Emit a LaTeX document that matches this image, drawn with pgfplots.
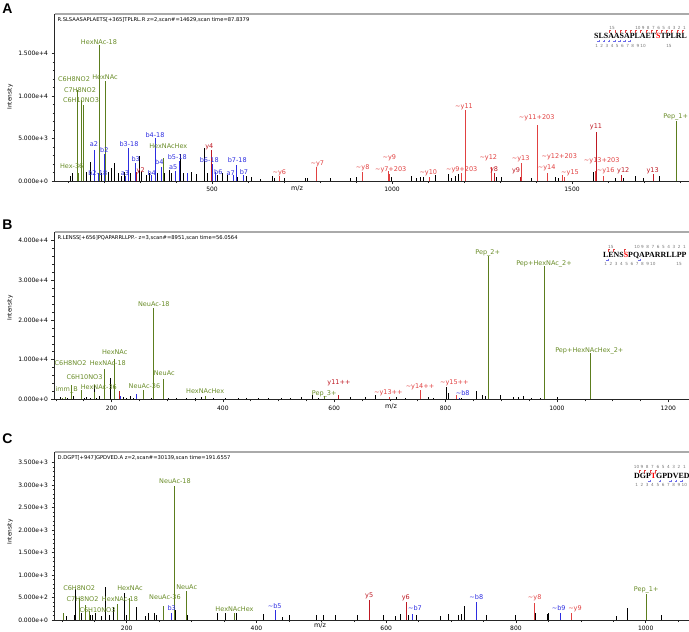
\documentclass[border=0pt]{standalone}
\usepackage{pgfplots}
\pgfplotsset{compat=1.18}
\usepackage{fontspec}
\setmainfont{DejaVu Sans}
\newfontfamily\seqfont{Liberation Serif}
\newfontfamily\letfont{Liberation Sans}
\definecolor{gpk}{RGB}{92,125,30}
\definecolor{glb}{RGB}{105,140,40}
\definecolor{bpk}{RGB}{45,45,225}
\definecolor{rdk}{RGB}{190,25,35}
\definecolor{rlt}{RGB}{225,65,65}
\definecolor{tgray}{RGB}{170,170,170}
\definecolor{ngray}{RGB}{120,120,120}
\newcommand{\tl}{\textasciitilde}
\newcommand{\lf}{\fontsize{6.5}{7}\selectfont}
\newcommand{\lab}[4]{\node[text=#1,font=\lf,inner sep=0pt] at (#2,#3) {#4};}
\newcommand{\nf}{\fontsize{4.2}{4.5}\selectfont}
\pgfplotsset{spec/.style={
  scale only axis, anchor=north west, width=634.5pt,
  axis x line*=bottom, axis y line*=left,
  axis line style={black!85,line width=0.6pt},
  tick style={black!85,line width=0.5pt},
  tick align=outside, major tick length=3pt, minor tick length=2pt,
  tick label style={font=\fontsize{6}{7}\selectfont},
  ymin=0, scaled ticks=false, clip=false, minor y tick num=4},
  pk/.style={ycomb, mark=none, line width=0.75pt}}
\begin{document}
\begin{tikzpicture}
\useasboundingbox (0,0) rectangle (689pt,-632pt);
% ---------------- A
\begin{axis}[spec, at={(54.5pt,-14pt)}, height=167pt,
  xmin=62.5, xmax=1825, ymax=19620,
  xtick={500,1000,1500}, xticklabels={500,1000,1500},
  minor xtick={100,200,...,1800},
  ytick={0,5000,10000,15000}, yticklabels={0.000e+0,5.000e+3,1.000e+4,1.500e+4}]
\addplot[pk, black] coordinates {(105.6,630)(111,900)(150.9,1100)(161,2200)(193,900)(211.6,1100)(220.9,1500)(230,2150)(239,900)(248.1,630)(257.4,1100)(274,900)(298,2900)(305,1100)(317,700)(326,980)(349,900)(367.6,980)(381.5,1300)(388,980)(412,3200)(421,900)(441.6,1100)(455.6,820)(478.7,3850)(488,900)(515.7,700)(529.6,980)(541.7,700)(571,510)(594.4,590)(608,510)(635,235)(667.6,590)(674,390)(701.9,390)(759,310)(765,310)(791,590)(827.8,390)(883,310)(900,510)(999,510)(1054.6,590)(1066.7,390)(1077.8,510)(1087,510)(1119.4,700)(1156.5,860)(1165.7,390)(1175,630)(1184,780)(1290,510)(1304,510)(1387,390)(1454,510)(1461,390)(1558,1100)(1620,390)(1642,390)(1676,630)(1697.5,390)(1743.5,590)};
\addplot[pk, gpk] coordinates {(126,10700)(130,900)(138,9500)(144,8900)(186,16000)(204,11800)(366,2700)(1790,7000)};
\addplot[pk, bpk] coordinates {(173,3600)(183,900)(201,3200)(258,600)(269,3900)(286,2100)(332,700)(342,5000)(358,1600)(399,1200)(409,2300)(432,900)(500,2000)(510,1100)(559,700)(568,1900)(587,700)};
\addplot[pk, rdk] coordinates {(291,1100)(497,3650)(1284,900)(1356,500)(1567,5750)(1636,700)(1726,800)};
\addplot[pk, rlt] coordinates {(687,620)(789,1700)(918,1100)(990,1200)(993,800)(1103,520)(1193,900)(1203,8300)(1275,1700)(1360,2100)(1405,6600)(1431,900)(1473,700)(1480,500)(1564,1200)(1588,600)};
\draw[tgray, line width=1.2pt] (rel axis cs:0,1) -- (rel axis cs:1,1);
\end{axis}
% ---------------- B
\begin{axis}[spec, at={(54.5pt,-232pt)}, height=167.3pt,
  xmin=97.6, xmax=1237.2, ymax=42170,
  xtick={200,400,...,1200}, xticklabels={200,400,600,800,1000,1200},
  minor xtick={100,150,...,1200},
  ytick={0,10000,20000,30000,40000}, yticklabels={0.000e+0,1.000e+4,2.000e+4,3.000e+4,4.000e+4}]
\addplot[pk, black] coordinates {(108,590)(121.3,420)(131.4,760)(151.2,420)(155.4,590)(161.4,420)(169.5,3500)(173.4,420)(178,760)(197.3,5400)(221.3,590)(227.3,420)(233.2,760)(239.2,420)(272.2,420)(302,420)(317,250)(335,250)(350,420)(362,590)(383,420)(404,250)(428,420)(443,420)(464,250)(482,420)(505.6,420)(520.6,250)(541.6,590)(560.6,1010)(571.4,420)(628.3,500)(655.3,670)(673.2,1100)(712.2,500)(727,340)(769,500)(778,340)(802,3030)(805,1500)(829,340)(855.9,2190)(866.6,1010)(870.8,840)(897.7,1010)(921.7,670)(930.6,500)(939.6,840)(954.6,340)(969.6,340)(1000.7,500)};
\addplot[pk, gpk] coordinates {(111.7,420)(116.5,600)(127.3,3700)(145.2,2440)(169.1,1850)(187,7660)(205,10270)(257.2,2270)(275.8,22900)(293.7,5220)(368,760)(582.2,760)(876.7,36000)(978,33660)(1059.4,11600)};
\addplot[pk, rdk] coordinates {(213.5,2020)(608,1100)};
\addplot[pk, rlt] coordinates {(698.4,500)(755.3,2300)(820,1100)};
\addplot[pk, bpk] coordinates {(216.5,800)(244,1430)(824,400)};
\draw[tgray, line width=1.2pt] (rel axis cs:0,1) -- (rel axis cs:1,1);
\end{axis}
% ---------------- C
\begin{axis}[spec, at={(54.5pt,-452pt)}, height=168pt,
  xmin=88.7, xmax=1066.7, ymax=3733,
  xtick={200,400,...,1000}, xticklabels={200,400,600,800,1000},
  minor xtick={100,150,...,1050},
  ytick={0,500,...,3500}, yticklabels={0.000e+0,5.000e+2,1.000e+3,1.500e+3,2.000e+3,2.500e+3,3.000e+3,3.500e+3}]
\addplot[pk, black] coordinates {(107.5,89)(119.3,111)(121.4,700)(130.6,148)(143.4,111)(147,111)(151.1,148)(161.4,89)(166.6,726)(173.2,111)(179.4,296)(196.3,593)(200,111)(214.3,296)(228.2,89)(233.3,163)(242.6,148)(246.2,111)(275.5,222)(294,111)(340.2,163)(352.6,163)(368.5,148)(410.6,133)(440.4,74)(450.2,111)(492.8,111)(503,111)(521,111)(556,111)(595.5,111)(614.6,89)(622.3,133)(634,111)(645.9,111)(682.9,89)(695.7,133)(711.2,111)(715.3,133)(721,311)(754.9,111)(798.5,111)(829.8,163)(848.3,133)(849.9,163)(955.3,89)(972.2,259)(1024.7,111)};
\addplot[pk, gpk] coordinates {(102.3,163)(126.5,500)(135.7,333)(142,207)(186.1,355)(203.5,480)(256.4,311)(273.4,2980)(292.5,650)(365.9,148)(1000.5,580)};
\addplot[pk, bpk] coordinates {(269.3,163)(428.6,222)(640.3,130)(739,405)(869,160)};
\addplot[pk, rdk] coordinates {(574,440)(631.6,405)};
\addplot[pk, rlt] coordinates {(828.3,385)(886,150)};
\draw[tgray, line width=1.2pt] (rel axis cs:0,1) -- (rel axis cs:1,1);
\end{axis}
% ---------------- annotations (pixel frame)
\begin{scope}[x=1pt,y=-1pt]
\node[font=\letfont\bfseries\fontsize{14}{14}\selectfont,inner sep=0pt] at (7.5,8.3) {A};
\node[font=\letfont\bfseries\fontsize{14}{14}\selectfont,inner sep=0pt] at (7.5,225) {B};
\node[font=\letfont\bfseries\fontsize{14}{14}\selectfont,inner sep=0pt] at (7.5,438.3) {C};
\foreach \yy in {97,308,532} \node[rotate=90,font=\fontsize{5.8}{6}\selectfont,inner sep=0pt] at (10,\yy) {Intensity};
\node[font=\fontsize{6.5}{7}\selectfont,inner sep=0pt] at (297,188) {m/z};
\node[font=\fontsize{6.5}{7}\selectfont,inner sep=0pt] at (391,406) {m/z};
\node[font=\fontsize{6.5}{7}\selectfont,inner sep=0pt] at (320,625) {m/z};
\node[anchor=west,font=\fontsize{5.2}{6}\selectfont,inner sep=0pt] at (57.5,19.5) {R.SLSAASAPLAETS[+365]TPLRL.R z=2,scan\#=14629,scan time=87.8379};
\node[anchor=west,font=\fontsize{5.2}{6}\selectfont,inner sep=0pt] at (57.5,237.5) {R.LENSS[+656]PQAPARRLLPP.- z=3,scan\#=8951,scan time=56.0564};
\node[anchor=west,font=\fontsize{5.2}{6}\selectfont,inner sep=0pt] at (57.5,457.5) {D.DGPT[+947]GPDVED.A z=2,scan\#=30139,scan time=191.6557};
% labels A
\lab{glb}{99}{42.3}{HexNAc-18}
\lab{glb}{74}{78.7}{C6H8NO2}
\lab{glb}{105}{77.3}{HexNAc}
\lab{glb}{80}{90}{C7H8NO2}
\lab{glb}{81}{100.3}{C6H10NO3}
\lab{glb}{168.3}{146}{HexNAcHex}
\lab{glb}{71.7}{165.7}{Hex-36}
\lab{glb}{675.7}{117.3}{Pep\_1+}
\lab{bpk}{94}{144.3}{a2}
\lab{bpk}{104.3}{150}{b2}
\lab{bpk}{129}{144.3}{b3-18}
\lab{bpk}{155}{135}{b4-18}
\lab{bpk}{135.7}{158.7}{b3}
\lab{bpk}{177.3}{156.7}{b5-18}
\lab{bpk}{209.3}{159.7}{b6-18}
\lab{bpk}{237.3}{160}{b7-18}
\lab{bpk}{159.3}{162.3}{b4}
\lab{bpk}{173.3}{167.3}{a5}
\lab{bpk}{218.3}{171.7}{b6}
\lab{bpk}{244}{171.7}{b7}
\lab{bpk}{97.7}{173.3}{b2-18}
\lab{bpk}{125}{173.3}{a3}
\lab{bpk}{151.7}{173.3}{b4}
\lab{bpk}{230.7}{173.3}{a7}
\lab{rdk}{209.3}{147}{y4}
\lab{rdk}{140.7}{170.7}{y2}
\lab{rdk}{494}{169.3}{y8}
\lab{rdk}{516}{171}{y9}
\lab{rdk}{596}{127.3}{y11}
\lab{rdk}{623.3}{170.3}{y12}
\lab{rdk}{652.7}{170.3}{y13}
\lab{rlt}{279.3}{172.7}{\tl y6}
\lab{rlt}{317.3}{164.3}{\tl y7}
\lab{rlt}{362.7}{167.7}{\tl y8}
\lab{rlt}{389.3}{157.7}{\tl y9}
\lab{rlt}{390.7}{169.3}{\tl y7+203}
\lab{rlt}{428.3}{172.3}{\tl y10}
\lab{rlt}{461.7}{169.3}{\tl y9+203}
\lab{rlt}{464}{106.7}{\tl y11}
\lab{rlt}{488.3}{157.7}{\tl y12}
\lab{rlt}{520.7}{159}{\tl y13}
\lab{rlt}{536.7}{117.3}{\tl y11+203}
\lab{rlt}{546.7}{168.3}{\tl y14}
\lab{rlt}{559.3}{157}{\tl y12+203}
\lab{rlt}{570}{173.3}{\tl y15}
\lab{rlt}{601.7}{160.3}{\tl y13+203}
\lab{rlt}{605.7}{171}{\tl y16}
% labels B
\lab{glb}{70.5}{363.5}{C6H8NO2}
\lab{glb}{114.7}{352.3}{HexNAc}
\lab{glb}{107.8}{363.3}{HexNAc-18}
\lab{glb}{84.5}{376.7}{C6H10NO3}
\lab{glb}{66.7}{390}{imm\_B}
\lab{glb}{98.8}{387.3}{HexNAc-36}
\lab{glb}{153.8}{304}{NeuAc-18}
\lab{glb}{164.3}{373.3}{NeuAc}
\lab{glb}{144.5}{385.7}{NeuAc-36}
\lab{glb}{205.2}{390.7}{HexNAcHex}
\lab{glb}{324.2}{394.3}{Pep\_3+}
\lab{glb}{487.7}{253.3}{Pep\_2+}
\lab{glb}{544}{264}{Pep+HexNAc\_2+}
\lab{glb}{589.3}{351.3}{Pep+HexNAcHex\_2+}
\lab{rdk}{339}{383.3}{y11++}
\lab{rlt}{388.3}{392.3}{\tl y13++}
\lab{rlt}{420}{386.7}{\tl y14++}
\lab{rlt}{454.3}{382.7}{\tl y15++}
\lab{bpk}{462.7}{393.3}{\tl b8}
% labels C
\lab{glb}{175}{481}{NeuAc-18}
\lab{glb}{79.2}{588.3}{C6H8NO2}
\lab{glb}{130}{588.3}{HexNAc}
\lab{glb}{186.7}{586.7}{NeuAc}
\lab{glb}{82.5}{599.3}{C7H8NO2}
\lab{glb}{120}{599.3}{HexNAc-18}
\lab{glb}{165}{597.3}{NeuAc-36}
\lab{glb}{97.5}{610}{C6H10NO3}
\lab{glb}{234.5}{609.3}{HexNAcHex}
\lab{glb}{646.2}{590}{Pep\_1+}
\lab{bpk}{171.7}{608.3}{b3}
\lab{bpk}{274.7}{606}{\tl b5}
\lab{bpk}{415}{608}{\tl b7}
\lab{bpk}{476.3}{597.3}{\tl b8}
\lab{bpk}{558.7}{608}{\tl b9}
\lab{rdk}{369.2}{596}{y5}
\lab{rdk}{405.8}{597.7}{y6}
\lab{rlt}{534.7}{597.7}{\tl y8}
\lab{rlt}{575}{609}{\tl y9}
% sequences
\node[anchor=base west,inner sep=0pt,font=\seqfont\bfseries\fontsize{7.9}{8}\selectfont] at (594,38) {SLSAASAPLAET{\color{red}S}TPLRL};
\foreach \k/\r in {15/4,10/9,9/10,8/11,7/12,6/13,5/14,4/15,3/16,2/17,1/18}
  \node[font=\nf,text=ngray,inner sep=0pt] at ({594+(\r-0.5)*5.17},27.5) {\k};
\foreach \k in {1,...,10}
  \node[font=\nf,text=ngray,inner sep=0pt] at ({594+(\k-0.5)*5.17},45.5) {\k};
\node[font=\nf,text=ngray,inner sep=0pt] at ({594+14.5*5.17},45.5) {15};
\foreach \r in {3,...,17} \draw[rlt,line width=0.35pt] ({594+\r*5.17},32.5) -- ({594+\r*5.17},30.5) -- ({594+\r*5.17+1.8},30.5);
\foreach \r in {1,...,7} \draw[bpk!70,line width=0.35pt] ({594+\r*5.17},39.5) -- ({594+\r*5.17},41.5) -- ({594+\r*5.17-1.8},41.5);
\node[anchor=base west,inner sep=0pt,font=\seqfont\bfseries\fontsize{7.9}{8}\selectfont] at (603,257) {LENS{\color{red}S}PQAPARRLLPP};
\foreach \k/\r in {15/2,10/7,9/8,8/9,7/10,6/11,5/12,4/13,3/14,2/15,1/16}
  \node[font=\nf,text=ngray,inner sep=0pt] at ({603+(\r-0.5)*5.25},246.5) {\k};
\foreach \k in {1,...,10}
  \node[font=\nf,text=ngray,inner sep=0pt] at ({603+(\k-0.5)*5.25},264) {\k};
\node[font=\nf,text=ngray,inner sep=0pt] at ({603+14.5*5.25},264) {15};
\foreach \r in {1,2,4} \draw[rlt,line width=0.35pt] ({603+\r*5.25},251.5) -- ({603+\r*5.25},249.5) -- ({603+\r*5.25+1.8},249.5);
\foreach \r in {1,7} \draw[bpk!70,line width=0.35pt] ({603+\r*5.25},258.5) -- ({603+\r*5.25},260.5) -- ({603+\r*5.25-1.8},260.5);
\node[anchor=base west,inner sep=0pt,font=\seqfont\bfseries\fontsize{7.9}{8}\selectfont] at (634,478) {DGP{\color{red}T}GPDVED};
\foreach \k in {1,...,10} {
  \node[font=\nf,text=ngray,inner sep=0pt] at ({634+(10-\k+0.5)*5.3},467) {\k};
  \node[font=\nf,text=ngray,inner sep=0pt] at ({634+(\k-0.5)*5.3},485) {\k};
}
\foreach \r in {1,2,3,4} \draw[rlt,line width=0.35pt] ({634+\r*5.3},472.5) -- ({634+\r*5.3},470.5) -- ({634+\r*5.3+1.8},470.5);
\foreach \r in {3,5,7,8,9} \draw[bpk!70,line width=0.35pt] ({634+\r*5.3},479.5) -- ({634+\r*5.3},481.5) -- ({634+\r*5.3-1.8},481.5);
\end{scope}
\end{tikzpicture}
\end{document}
